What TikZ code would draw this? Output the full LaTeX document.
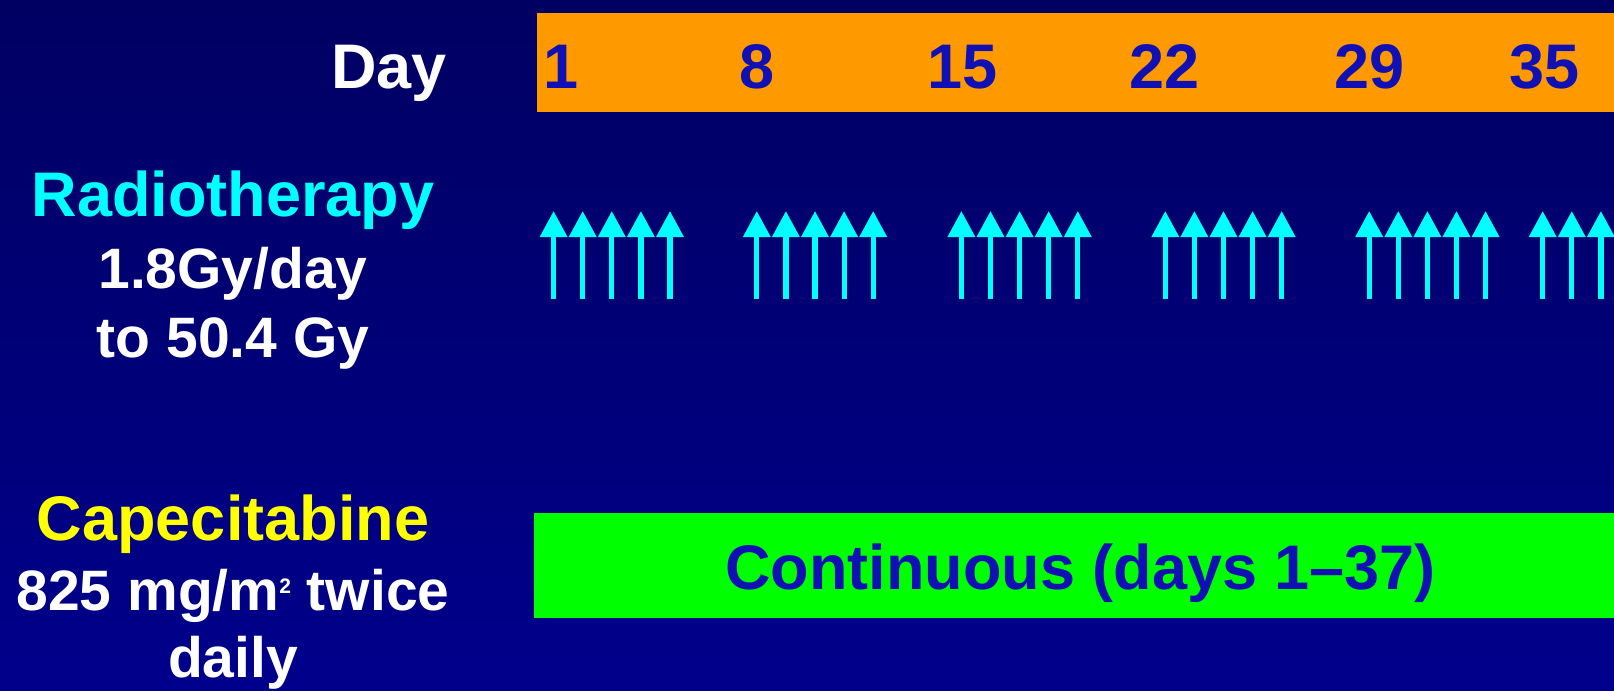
\documentclass[tikz,border=0pt]{standalone}
\usepackage{fontspec}
\setmainfont{Liberation Sans}
\usetikzlibrary{arrows.meta}
\definecolor{bgtop}{RGB}{0,0,98}
\definecolor{bgbot}{RGB}{0,0,140}
\definecolor{daybar}{RGB}{255,153,0}
\definecolor{contbar}{RGB}{0,255,0}
\definecolor{numblue}{RGB}{16,16,180}
\definecolor{rtcyan}{RGB}{0,255,255}
\definecolor{capyellow}{RGB}{255,255,0}
\tikzset{
  big/.style={inner sep=0pt, font=\bfseries\fontsize{31.5pt}{36pt}\selectfont, anchor=base},
  sub/.style={inner sep=0pt, font=\bfseries\fontsize{28.5pt}{33pt}\selectfont, anchor=base, text=white},
  num/.style={big, text=numblue},
  rtarrow/.style={draw=rtcyan, line width=2.6pt, -{Triangle[length=13pt,width=13.2pt]}},
}
\begin{document}
\begin{tikzpicture}[x=0.5pt,y=-0.5pt]
\shade[top color=bgtop,bottom color=bgbot] (0,0) rectangle (1614,691);
\useasboundingbox (0,0) rectangle (1614,691);
\clip (0,0) rectangle (1614,691);
% day bar
\fill[daybar] (537,13) rectangle (1614,112);
\node[big, text=white, anchor=base east] (day) at (447,88) {Day};
\node[num] (d1) at (561,88) {1};
\node[num] (d8) at (757.5,88) {8};
\node[num] (d15) at (963,88) {15};
\node[num] (d22) at (1164.5,88) {22};
\node[num] (d29) at (1370,88) {29};
\node[num] (d35) at (1544.5,88) {35};
% left column
\node[big, text=rtcyan] (rt) at (233,216) {Radiotherapy};
\node[sub] (rt1) at (233,288) {1.8Gy/day};
\node[sub] (rt2) at (233,357) {to 50.4 Gy};
\node[big, text=capyellow] (cap) at (233,540) {Capecitabine};
\node[sub] (cap1) at (233,610) {825 mg/m\raisebox{8.5pt}{\fontsize{10.5pt}{10.5pt}\selectfont 2} twice};
\node[sub] (cap2) at (233,677) {daily};
% radiotherapy arrows
\foreach \g in {553.6,756.8,961.4,1165.3,1369.2,1542.7}
  \foreach \k in {0,...,4}
    \draw[rtarrow] ({\g+29.1*\k},299) -- ({\g+29.1*\k},211);
% continuous bar
\fill[contbar] (534,513) rectangle (1614,618);
\node[num] (cont) at (1080.5,589) {Continuous (days 1–37)};
\end{tikzpicture}
\end{document}
